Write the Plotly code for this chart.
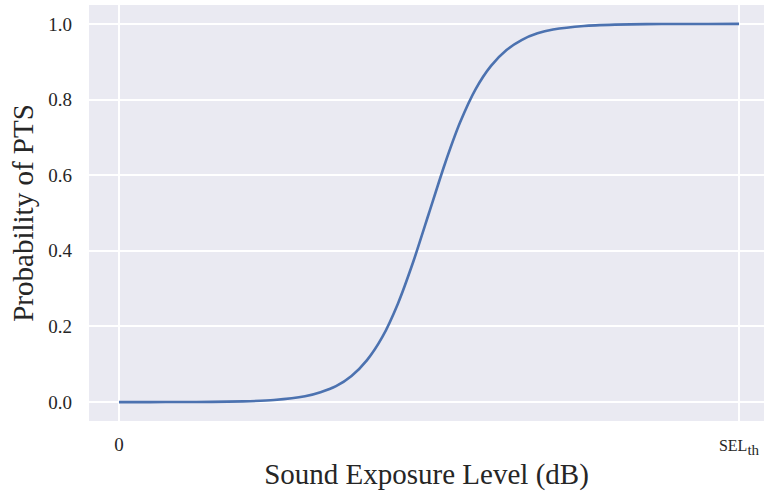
import plotly.graph_objects as go

# Normalised sound exposure level (0 = lowest level, 1 = SEL threshold)
sel_level = [0.0, 0.05, 0.10, 0.15, 0.20, 0.25, 0.30, 0.325, 0.35, 0.375,
             0.40, 0.425, 0.45, 0.475, 0.50, 0.525, 0.55, 0.575, 0.60,
             0.625, 0.65, 0.675, 0.70, 0.75, 0.80, 0.85, 0.90, 0.95, 1.0]
# Probability of permanent threshold shift at each level
p_pts = [0.0, 0.0, 0.0002, 0.0006, 0.0019, 0.0054, 0.0152, 0.026, 0.042, 0.069,
         0.111, 0.173, 0.261, 0.373, 0.500, 0.627, 0.739, 0.827, 0.889,
         0.931, 0.958, 0.975, 0.985, 0.9946, 0.998, 0.9994, 0.9998, 0.9999, 1.0]

x_tick_vals = [0, 1]
x_tick_text = ["0", "<span style='font-size:16px'>SEL</span><sub><span style='font-size:15px'>th</span></sub>"]
y_tick_vals = [0.0, 0.2, 0.4, 0.6, 0.8, 1.0]
y_tick_text = ["0.0", "0.2", "0.4", "0.6", "0.8", "1.0"]

BG = "#EAEAF2"
TEXT = "#262626"
FONT = "Liberation Serif"

fig = go.Figure()
fig.add_trace(go.Scatter(
    x=sel_level, y=p_pts, mode="lines",
    line=dict(color="#4C72B0", width=2.6, shape="spline", smoothing=0.6),
    showlegend=False, hoverinfo="skip",
))

fig.update_layout(
    width=764, height=495,
    margin=dict(l=89, r=0, t=5, b=74),
    paper_bgcolor="white", plot_bgcolor=BG,
    font=dict(family=FONT, color=TEXT, size=20),
    xaxis=dict(
        range=[-0.0484, 1.0403], tickvals=x_tick_vals, ticktext=x_tick_text,
        showgrid=True, gridcolor="white", gridwidth=1.8, zeroline=False,
        showline=False, ticks="", ticklabelstandoff=10,
        tickfont=dict(size=19),
        title=dict(text="Sound Exposure Level (dB)", font=dict(size=29), standoff=6),
    ),
    yaxis=dict(
        range=[-0.05, 1.05], tickvals=y_tick_vals, ticktext=y_tick_text,
        showgrid=True, gridcolor="white", gridwidth=1.8, zeroline=False,
        showline=False, ticks="", ticklabelstandoff=16,
        tickfont=dict(size=19),
        title=dict(text="Probability of PTS", font=dict(size=29), standoff=6),
    ),
)

fig.write_html("out.html")
